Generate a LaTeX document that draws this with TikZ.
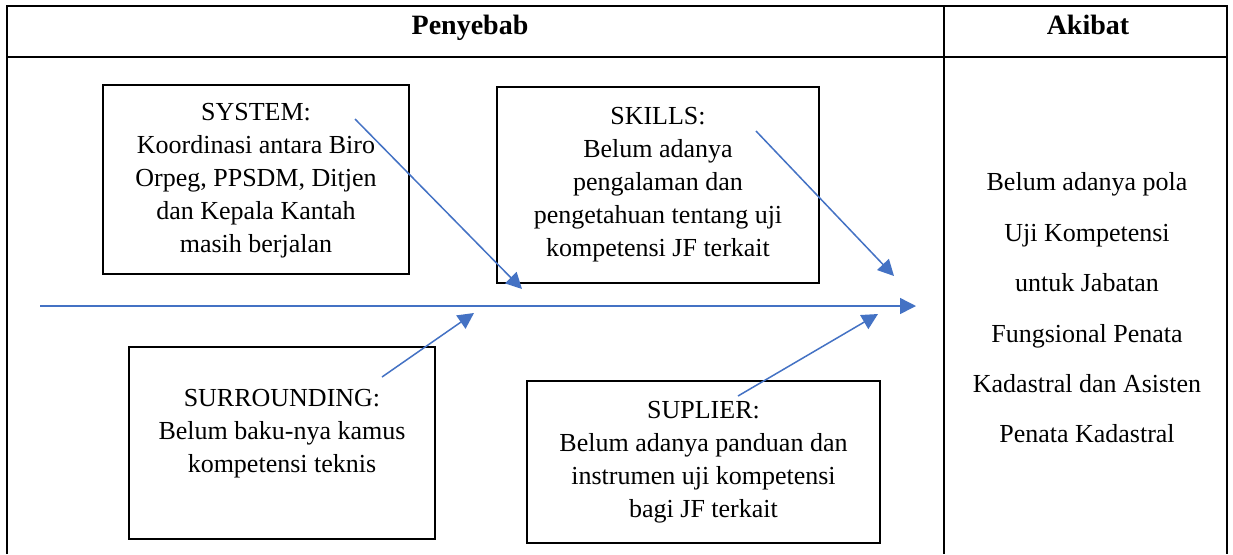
\documentclass[tikz,border=0pt]{standalone}
\usepackage{fontspec}
\setmainfont{Liberation Serif}
\usetikzlibrary{arrows.meta}
\definecolor{arrowblue}{RGB}{68,114,196}
\begin{document}
\begin{tikzpicture}[x=0.5pt,y=-0.5pt,
  tableline/.style={line width=1pt, black},
  causebox/.style={draw, line width=1.1pt, rectangle, inner sep=0pt},
  boxtext/.style={align=center, inner sep=0pt, font=\fontsize{13}{16.5}\selectfont},
  effecttext/.style={align=center, inner sep=0pt, font=\fontsize{13}{25.2}\selectfont},
  headtext/.style={anchor=base, inner sep=0pt, font=\fontsize{14}{16}\selectfont\bfseries},
  bonearrow/.style={draw=arrowblue, line width=0.75pt, -{Triangle[length=8pt,width=8pt]}, fill=arrowblue}
]
\useasboundingbox (0,0) rectangle (1233,554);
\fill[white] (0,0) rectangle (1233,554);

% table
\coordinate (tl) at (7,6);
\coordinate (tr) at (1227,6);
\coordinate (bl) at (7,554);
\coordinate (br) at (1227,554);
\coordinate (hl) at (7,57);
\coordinate (hr) at (1227,57);
\coordinate (ct) at (944,6);
\coordinate (cb) at (944,554);
\draw[tableline] (bl) -- (tl) -- (tr) -- (br);
\draw[tableline] (hl) -- (hr);
\draw[tableline] (ct) -- (cb);

\node[headtext] (penyebab) at (470,34) {Penyebab};
\node[headtext] (akibat) at (1088,34) {Akibat};

% cause boxes
\node[causebox, minimum width=153pt, minimum height=94.5pt] (system) at (256,179.5) {};
\node[boxtext] (systemtext) at (256,181) {SYSTEM:\\Koordinasi antara Biro\\Orpeg, PPSDM, Ditjen\\dan Kepala Kantah\\masih berjalan};

\node[causebox, minimum width=161pt, minimum height=98pt] (skills) at (658,185) {};
\node[boxtext] (skillstext) at (658,185) {SKILLS:\\Belum adanya\\pengalaman dan\\pengetahuan tentang uji\\kompetensi JF terkait};

\node[causebox, minimum width=153pt, minimum height=96pt] (surrounding) at (282,443) {};
\node[boxtext] (surroundingtext) at (282,434) {SURROUNDING:\\Belum baku-nya kamus\\kompetensi teknis};

\node[causebox, minimum width=176.5pt, minimum height=81pt] (suplier) at (703.5,462) {};
\node[boxtext] (suppliertext) at (703.5,462) {SUPLIER:\\Belum adanya panduan dan\\instrumen uji kompetensi\\bagi JF terkait};

% effect text
\node[effecttext] (effect) at (1087,308) {Belum adanya pola\\Uji Kompetensi\\untuk Jabatan\\Fungsional Penata\\Kadastral dan Asisten\\Penata Kadastral};

% spine and bones
\coordinate (spinestart) at (40,306);
\coordinate (spineend) at (916,306);
\draw[bonearrow] (spinestart) -- (spineend);

\coordinate (sysfrom) at (355,119);
\coordinate (systo) at (522,289);
\draw[bonearrow] (sysfrom) -- (systo);

\coordinate (skfrom) at (756,131);
\coordinate (skto) at (894,276);
\draw[bonearrow] (skfrom) -- (skto);

\coordinate (surfrom) at (382,377);
\coordinate (surto) at (474,313);
\draw[bonearrow] (surfrom) -- (surto);

\coordinate (supfrom) at (738,396);
\coordinate (supto) at (878,314);
\draw[bonearrow] (supfrom) -- (supto);
\end{tikzpicture}
\end{document}
